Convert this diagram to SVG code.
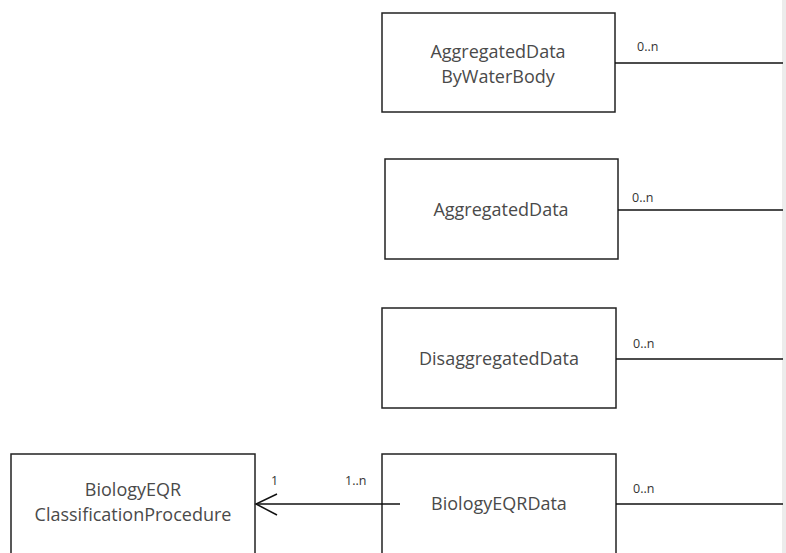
<svg xmlns="http://www.w3.org/2000/svg" width="786" height="553" viewBox="0 0 786 553">
<style>
.box{fill:#ffffff;stroke:#222;stroke-width:1.5}
.t{font-family:"Open Sans","Noto Sans",sans-serif;font-size:18px;fill:#4a4a4a;text-anchor:middle}
.m{font-family:"Open Sans","Noto Sans",sans-serif;font-size:12.5px;fill:#333}
.c{stroke:#111;stroke-width:1.5;fill:none}
</style>
<rect x="0" y="0" width="786" height="553" fill="#ffffff"/>
<rect x="782" y="0" width="4" height="553" fill="#ececec"/>
<g id="n1">
<rect class="box" x="382" y="13" width="233" height="99"/>
<text class="t" x="498" y="58">AggregatedData</text>
<text class="t" x="498" y="83">ByWaterBody</text>
</g>
<g id="n2">
<rect class="box" x="385" y="159" width="233" height="100"/>
<text class="t" x="501" y="216">AggregatedData</text>
</g>
<g id="n3">
<rect class="box" x="382" y="308" width="234" height="100"/>
<text class="t" x="499" y="365">DisaggregatedData</text>
</g>
<g id="n4">
<rect class="box" x="382" y="454" width="234" height="110"/>
<text class="t" x="499" y="510">BiologyEQRData</text>
</g>
<g id="n5">
<rect class="box" x="11" y="454" width="244" height="110"/>
<text class="t" x="133" y="496">BiologyEQR</text>
<text class="t" x="133" y="521">ClassificationProcedure</text>
</g>
<g id="connectors">
<line class="c" x1="615" y1="63" x2="783" y2="63"/>
<line class="c" x1="618" y1="210" x2="783" y2="210"/>
<line class="c" x1="616" y1="359" x2="783" y2="359"/>
<line class="c" x1="616" y1="504" x2="783" y2="504"/>
<line class="c" x1="400" y1="504" x2="256" y2="504"/>
<polyline class="c" points="277,494 256,504 277,515"/>
<text class="m" x="637" y="51">0..n</text>
<text class="m" x="632" y="202">0..n</text>
<text class="m" x="633" y="348">0..n</text>
<text class="m" x="633" y="493">0..n</text>
<text class="m" x="271" y="485">1</text>
<text class="m" x="345" y="485">1..n</text>
</g>
</svg>
